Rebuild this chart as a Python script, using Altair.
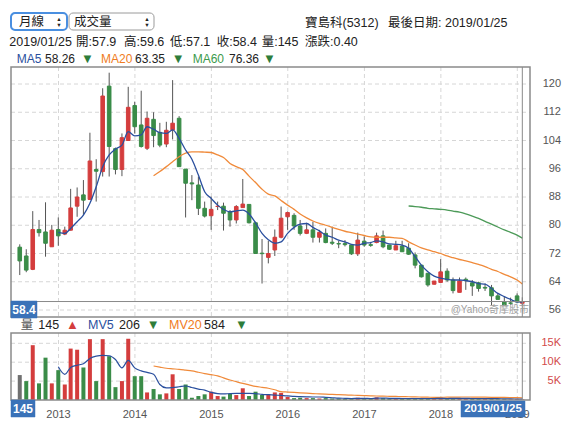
import calendar
import altair as alt
import pandas as pd

# ---------------- data ----------------
opens = [73.8, 71.3, 67.5, 78.8, 78.1, 73.9, 78.8, 77.5, 78.6, 85.4,
         88.6, 87.3, 95.8, 95.2, 119.4, 101.7, 95.8, 104.0, 113.9, 108.4,
         101.8, 110.0, 106.3, 103.0, 107.0, 110.3, 95.9, 92.0, 91.4, 84.8,
         82.7, 85.3, 85.4, 83.8, 81.5, 85.0, 85.9, 80.7, 72.1, 70.9,
         73.0, 76.6, 82.4, 82.8, 79.8, 77.7, 78.7, 76.6, 77.7, 75.2,
         74.8, 74.8, 74.4, 71.9, 75.5, 74.5, 75.1, 77.0, 74.4, 73.0,
         74.1, 73.5, 71.6, 68.7, 66.4, 63.3, 63.8, 67.0, 64.5, 61.0,
         64.7, 63.7, 63.7, 62.4, 62.3, 60.0, 58.3, 58.0, 60.0, 57.9]
highs = [74.6, 73.2, 84.0, 81.5, 86.5, 80.1, 82.2, 79.6, 90.3, 90.7,
         92.8, 106.2, 98.7, 118.8, 123.2, 102.0, 106.0, 119.2, 115.0, 118.1,
         112.2, 112.0, 109.0, 109.3, 121.1, 110.9, 95.9, 94.2, 93.8, 86.7,
         88.1, 86.7, 86.4, 84.3, 85.7, 93.1, 85.9, 81.0, 76.1, 75.6,
         78.8, 85.3, 83.9, 83.4, 81.5, 80.7, 81.0, 78.7, 79.1, 79.6,
         75.6, 75.8, 74.6, 77.9, 76.8, 75.3, 77.9, 78.5, 74.5, 75.6,
         75.6, 74.9, 72.3, 68.7, 66.4, 64.2, 70.4, 67.8, 65.2, 65.2,
         65.2, 64.5, 64.0, 63.5, 63.1, 60.7, 59.8, 59.5, 60.7, 59.6]
lows = [65.9, 66.7, 67.3, 76.8, 71.1, 73.9, 74.2, 77.2, 78.5, 82.4,
        82.9, 87.3, 86.7, 93.8, 93.8, 94.4, 93.9, 104.0, 106.0, 102.0,
        101.3, 102.1, 102.1, 102.1, 104.3, 96.6, 82.2, 87.1, 82.9, 82.2,
        78.7, 84.3, 78.5, 79.6, 80.5, 85.0, 80.5, 72.0, 63.5, 69.2,
        71.3, 76.3, 78.7, 78.7, 77.1, 77.5, 75.1, 75.1, 74.9, 74.4,
        73.5, 74.0, 71.6, 71.3, 73.9, 73.9, 74.9, 73.5, 73.0, 73.0,
        72.5, 71.6, 67.8, 65.2, 62.6, 63.2, 63.6, 64.0, 60.7, 61.0,
        61.7, 60.0, 61.2, 61.4, 57.4, 59.0, 57.4, 57.4, 57.9, 57.1]
closes = [69.9, 67.3, 78.8, 77.9, 74.9, 78.6, 77.0, 78.6, 84.9, 88.0,
          87.1, 98.2, 95.3, 116.6, 102.3, 95.8, 104.8, 113.4, 107.9, 102.3,
          110.3, 105.4, 102.7, 106.9, 108.9, 96.6, 91.9, 91.7, 84.8, 82.6,
          84.5, 85.4, 83.4, 81.5, 85.3, 86.0, 80.7, 72.0, 71.95, 72.0,
          76.6, 82.0, 83.6, 79.8, 77.7, 78.7, 76.6, 78.0, 75.1, 74.9,
          74.7, 74.5, 71.9, 75.8, 74.4, 74.3, 77.0, 73.9, 73.2, 74.2,
          72.5, 71.8, 68.7, 65.4, 63.1, 64.2, 66.8, 64.5, 61.5, 64.2,
          64.3, 62.8, 62.1, 62.2, 60.0, 59.0, 57.4, 57.9, 58.3, 58.4]
volumes = [6600, 5000, 14500, 4400, 11200, 4400, 7900, 4100, 13600, 13300,
           8600, 16100, 5000, 16100, 11600, 3400, 5000, 16200, 6300, 6300,
           2000, 2900, 1500, 1750, 6800, 2900, 4100, 600, 1050, 1500,
           2200, 1050, 900, 1600, 1300, 3100, 1050, 2200, 1300, 1500,
           2000, 1900, 800, 500, 600, 500, 500, 400, 500, 400,
           400, 300, 300, 600, 400, 300, 700, 500, 300, 300,
           300, 400, 500, 400, 400, 300, 600, 300, 500, 500,
           300, 400, 300, 300, 500, 200, 300, 200, 300, 145]

ma5_start = 6
ma5 = [78.0, 77.7, 79.1, 81.0, 82.9, 86.2, 90.9, 96.6, 99.9, 101.6,
       102.7, 106.5, 105.3, 105.6, 107.9, 107.2, 106.2, 106.0, 107.0, 104.6,
       101.3, 98.7, 94.2, 89.5, 87.6, 85.7, 84.5, 83.8, 84.1, 84.3,
       83.2, 80.7, 77.7, 75.9, 74.9, 75.3, 77.7, 79.4, 80.3, 80.5,
       79.4, 78.4, 77.2, 76.6, 75.8, 75.3, 74.6, 74.4, 74.9, 75.1,
       75.6, 75.3, 74.7, 74.6, 74.4, 73.5, 71.1, 68.7, 66.8, 65.6,
       65.0, 64.7, 64.5, 64.5, 64.3, 64.0, 63.5, 63.3, 62.1, 60.7,
       59.8, 59.0, 58.3, 58.26]
ma20_start = 21
ma20 = [94.0, 95.2, 96.6, 98.0, 99.4, 100.4, 100.8, 100.8, 100.7, 100.6,
        99.9, 99.2, 97.5, 96.6, 95.8, 93.9, 92.1, 90.2, 88.8, 88.3,
        87.0, 85.7, 84.5, 83.2, 82.1, 81.2, 80.5, 80.0, 79.4, 78.8,
        78.3, 77.9, 77.5, 77.1, 76.7, 76.6, 76.6, 76.6, 76.4, 76.3,
        75.3, 74.4, 73.6, 73.0, 72.5, 72.0, 71.3, 70.8, 70.3, 69.9,
        69.4, 68.9, 68.3, 67.5, 66.9, 66.1, 65.4, 64.5, 63.35]
ma60_start = 61
ma60 = [85.45, 85.3, 85.1, 84.8, 84.65, 84.5, 84.3, 84.0, 83.7, 83.2,
        82.6, 81.95, 81.1, 80.3, 79.5, 78.7, 78.0, 77.2, 76.36]
mv5_start = 6
mv5 = [8800, 6800, 8600, 9200, 9600, 11000, 11600, 11800, 11700, 10700,
       8500, 10500, 8500, 7700, 7300, 6800, 4100, 3200, 3300, 3500,
       3700, 3300, 2900, 2600, 2000, 1700, 1600, 1700, 1750, 1750,
       1750, 1700, 1500, 1400, 1300, 1200, 1100, 950, 900, 850,
       800, 800, 700, 600, 500, 450, 400, 450, 450, 400,
       500, 500, 450, 450, 400, 400, 400, 400, 400, 400,
       450, 400, 450, 450, 450, 400, 400, 350, 350, 350,
       300, 300, 250, 206]
mv20_start = 21
mv20 = [9000, 8700, 8400, 8250, 8100, 7900, 7700, 7350, 7000, 6700,
        6400, 5850, 5300, 4850, 4400, 4000, 3600, 3350, 3100, 2700,
        2200, 2100, 2000, 1900, 1800, 1700, 1600, 1530, 1470, 1400,
        1340, 1280, 1220, 1160, 1100, 1060, 1020, 980, 940, 900,
        860, 820, 780, 740, 700, 720, 740, 760, 780, 800,
        780, 760, 740, 720, 700, 670, 640, 610, 584]

price_ticks = [56, 64, 72, 80, 88, 96, 104, 112, 120]
vol_ticks = [5000, 10000, 15000]
vol_tick_labels = ["5K", "10K", "15K"]
years = [2013, 2014, 2015, 2016, 2017, 2018, 2019]
last_date = "2019-01-25"
last_date_label = "2019/01/25"

select_labels = ["月線", "成交量"]
title_labels = ["寶島科(5312)", "最後日期: 2019/01/25"]
quote_labels = ["2019/01/25", "開:57.9", "高:59.6", "低:57.1", "收:58.4", "量:145", "漲跌:0.40"]
ma_names = ["MA5", "MA20", "MA60"]
ma_values = ["58.26", "63.35", "76.36"]
vol_legend_names = ["量", "MV5", "MV20"]
vol_legend_values = ["145", "206", "584"]
watermark = "@Yahoo奇摩股市"

# ---------------- styles ----------------
RED = "#d43d3d"
GREEN = "#3a8c48"
GRAY = "#707070"
WICK = "#555555"
BLUE_LINE = "#2a4f9e"
ORANGE = "#f08a3a"
MA60_GREEN = "#4c9a58"
GRID = "#d6d6d6"
FRAME = "#8a8a8a"
BOX = "#3a72b8"
FONT = "Liberation Sans, Noto Sans CJK TC, sans-serif"

# month-end positions of the monthly candles
dates = []
yy, mm = 2012, 6
for i in range(len(closes) - 1):
    d = calendar.monthrange(yy, mm)[1]
    dates.append(f"{yy:04d}-{mm:02d}-{d:02d}")
    mm += 1
    if mm > 12:
        mm = 1
        yy += 1
dates.append(last_date)

cand = pd.DataFrame({"date": dates, "o": opens, "h": highs, "l": lows, "c": closes, "v": volumes})
cand["col"] = [RED if c >= o else GREEN for o, c in zip(opens, closes)]
vcol = [GRAY]
for i in range(1, len(closes)):
    vcol.append(RED if closes[i] > closes[i - 1] else GREEN)
cand["vcol"] = vcol


def series(start, vals):
    return pd.DataFrame({"date": dates[start:start + len(vals)], "val": vals})


xs = alt.Scale(domain=[alt.DateTime(year=2013, month=1, date=1, utc=True),
                       alt.DateTime(year=2019, month=1, date=1, utc=True)],
               range=[45.5, 514.3])
ps = alt.Scale(domain=[56, 120], range=[302, 76], zero=False, nice=False)
vs = alt.Scale(domain=[0, 15000], range=[392, 335.3], zero=False, nice=False)

PX0, PX1 = 3, 522
PY0, PY1 = 59, 309
VY0, VY1 = 325, 392

XD = alt.X("date:T", scale=xs, axis=None)
one = pd.DataFrame({"a": [0]})


def txt(s, x, y, color="#222222", size=12.5, align="left", weight="normal"):
    return alt.Chart(pd.DataFrame({"t": [s]})).mark_text(
        align=align, baseline="middle", fontSize=size, color=color,
        fontWeight=weight, font=FONT).encode(
        text="t:N", x=alt.value(x), y=alt.value(y))


def box(x0, x1, y0, y1, fill="#ffffff", stroke=FRAME, sw=1.0, radius=0, fo=1.0):
    return alt.Chart(one).mark_rect(fill=fill, fillOpacity=fo, stroke=stroke, strokeWidth=sw,
                                    cornerRadius=radius).encode(
        x=alt.value(x0), x2=alt.value(x1), y=alt.value(y0), y2=alt.value(y1))


year_df = pd.DataFrame({"date": [f"{y}-01-01" for y in years], "t": [str(y) for y in years]})

# ---------------- price panel ----------------
p_grid_h = alt.Chart(pd.DataFrame({"p": price_ticks})).mark_rule(
    color=GRID, strokeDash=[4, 3], strokeWidth=1).encode(
    y=alt.Y("p:Q", scale=ps, axis=None), x=alt.value(PX0), x2=alt.value(PX1))
p_grid_v = alt.Chart(year_df).mark_rule(color=GRID, strokeDash=[4, 3], strokeWidth=1).encode(
    x=XD, y=alt.value(PY0), y2=alt.value(PY1))
wicks = alt.Chart(cand).mark_rule(color=WICK, strokeWidth=1).encode(
    x=XD, y=alt.Y("l:Q", scale=ps, axis=None), y2="h:Q")
bodies = alt.Chart(cand).mark_bar(size=3.6, strokeWidth=1).encode(
    x=XD, y=alt.Y("o:Q", scale=ps, axis=None), y2="c:Q",
    color=alt.Color("col:N", scale=None), stroke=alt.Stroke("col:N", scale=None))


def pline(start, vals, color):
    return alt.Chart(series(start, vals)).mark_line(
        color=color, strokeWidth=1.3, interpolate="monotone").encode(
        x=XD, y=alt.Y("val:Q", scale=ps, axis=None))


cross_h = alt.Chart(pd.DataFrame({"p": [closes[-1]]})).mark_rule(color=FRAME, strokeWidth=1).encode(
    y=alt.Y("p:Q", scale=ps, axis=None), x=alt.value(PX0), x2=alt.value(PX1))
cross_v = alt.Chart(pd.DataFrame({"date": [last_date]})).mark_rule(color=FRAME, strokeWidth=1).encode(
    x=XD, y=alt.value(PY0), y2=alt.value(PY1))
p_labels = alt.Chart(pd.DataFrame({"p": price_ticks})).mark_text(
    align="right", baseline="middle", fontSize=11, color="#555555", font=FONT).encode(
    y=alt.Y("p:Q", scale=ps, axis=None), x=alt.value(553), text="p:Q")

price = alt.layer(
    p_grid_h, p_grid_v, wicks, bodies,
    pline(ma20_start, ma20, ORANGE), pline(ma60_start, ma60, MA60_GREEN), pline(ma5_start, ma5, BLUE_LINE),
    cross_h, cross_v, p_labels,
)

# ---------------- volume panel ----------------
v_grid_h = alt.Chart(pd.DataFrame({"v": vol_ticks, "t": vol_tick_labels})).mark_rule(
    color=GRID, strokeDash=[4, 3], strokeWidth=1).encode(
    y=alt.Y("v:Q", scale=vs, axis=None), x=alt.value(PX0), x2=alt.value(PX1))
v_grid_v = alt.Chart(year_df).mark_rule(color=GRID, strokeDash=[4, 3], strokeWidth=1).encode(
    x=XD, y=alt.value(VY0), y2=alt.value(VY1))
vbars = alt.Chart(cand).mark_bar(size=4).encode(
    x=XD, y=alt.Y("v:Q", scale=vs, axis=None), color=alt.Color("vcol:N", scale=None))


def vline(start, vals, color):
    return alt.Chart(series(start, vals)).mark_line(
        color=color, strokeWidth=1.2, interpolate="monotone").encode(
        x=XD, y=alt.Y("val:Q", scale=vs, axis=None))


v_cross = alt.Chart(pd.DataFrame({"date": [last_date]})).mark_rule(color=FRAME, strokeWidth=1).encode(
    x=XD, y=alt.value(VY0), y2=alt.value(VY1))
v_labels = alt.Chart(pd.DataFrame({"v": vol_ticks, "t": vol_tick_labels})).mark_text(
    align="right", baseline="middle", fontSize=11, color="#d24a4a", font=FONT).encode(
    y=alt.Y("v:Q", scale=vs, axis=None), x=alt.value(553), text="t:N")
year_labels = alt.Chart(year_df).mark_text(
    align="center", baseline="middle", fontSize=11, color="#555555", font=FONT).encode(
    x=XD, y=alt.value(407), text="t:N")

vol = alt.layer(v_grid_h, v_grid_v, vbars,
                vline(mv20_start, mv20, ORANGE), vline(mv5_start, mv5, BLUE_LINE),
                v_cross, v_labels, year_labels)

# ---------------- decorations / header ----------------
deco_layers = [
    box(PX0, PX1, PY0, PY1, fill="#ffffff", stroke=FRAME, sw=1.5, fo=0),
    box(PX0, PX1, VY0, VY1, fill="#ffffff", stroke=FRAME, sw=1.5, fo=0),
    # select boxes
    box(3, 59, 5, 22, fill="#ffffff", stroke="#4a8fe0", sw=2, radius=4),
    box(61, 146, 5, 22, fill="#ffffff", stroke="#9a9a9a", sw=1, radius=4),
    txt(select_labels[0], 11, 14, size=12.5),
    txt(select_labels[1], 66, 14, size=12.5),
    txt("▲", 51, 10.5, size=5.5, align="center"),
    txt("▼", 51, 16.5, size=5.5, align="center"),
    txt("▲", 139, 10.5, size=5.5, align="center"),
    txt("▼", 139, 16.5, size=5.5, align="center"),
    txt(title_labels[0], 297, 15),
    txt(title_labels[1], 380, 15),
]
qx = [1.3, 68, 116, 162, 208.7, 253.7, 297]
for s, x in zip(quote_labels, qx):
    deco_layers.append(txt(s, x, 34))
ma_cols = [BLUE_LINE, "#f07c22", "#3c9a4c"]
ma_name_x = [8.7, 93, 184.7]
ma_val_x = [37, 127, 221]
ma_tri_x = [73, 163.7, 255]
for n, v, c, xn, xv, xt in zip(ma_names, ma_values, ma_cols, ma_name_x, ma_val_x, ma_tri_x):
    deco_layers.append(txt(n, xn, 51, color=c, size=12))
    deco_layers.append(txt(v, xv, 51, size=12))
    deco_layers.append(txt("▼", xt, 51, color="#2e7d3a", size=13))
vl_cols = ["#555555", BLUE_LINE, "#f07c22"]
vl_name_x = [12.7, 80, 161]
vl_val_x = [30.3, 111, 196]
vl_tri_x = [58, 138.7, 227]
vl_tri = ["▲", "▼", "▼"]
vl_tri_c = [RED, "#2e7d3a", "#2e7d3a"]
for n, v, c, xn, xv, xt, tr, tc in zip(vol_legend_names, vol_legend_values, vl_cols, vl_name_x,
                                       vl_val_x, vl_tri_x, vl_tri, vl_tri_c):
    deco_layers.append(txt(n, xn, 317, color=c))
    deco_layers.append(txt(v, xv, 317))
    deco_layers.append(txt(tr, xt, 317, color=tc, size=13))
deco_layers += [
    txt(watermark, 521, 302, color="#a0a0a0", size=10, align="right"),
    box(3, 29, 293, 310, fill=BOX, stroke=BOX, sw=0.5),
    txt(str(closes[-1]), 16, 301.5, color="#ffffff", size=12, align="center", weight="bold"),
    box(3, 27, 392, 409, fill=BOX, stroke=BOX, sw=0.5),
    txt(str(volumes[-1]), 15, 400.5, color="#ffffff", size=12, align="center", weight="bold"),
    box(453, 517, 393, 409, fill=BOX, stroke=BOX, sw=0.5),
    txt(last_date_label, 485, 401, color="#ffffff", size=11.5, align="center", weight="bold"),
]
deco = alt.layer(*deco_layers)

chart = alt.layer(price, vol, deco).resolve_scale(y="independent").properties(
    width=555, height=413, autosize="none", padding=0
).configure_view(stroke=None)

chart.save("out.html", embed_options={"renderer": "svg", "actions": False})
